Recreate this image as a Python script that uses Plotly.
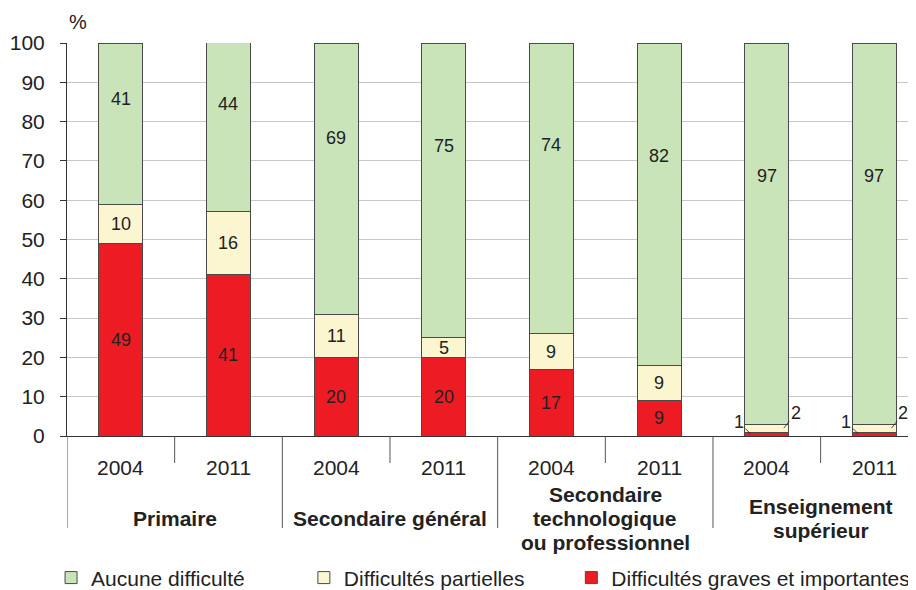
import plotly.graph_objects as go

# Données
groupes = [["Primaire"], ["Secondaire général"],
           ["Secondaire", "technologique", "ou professionnel"],
           ["Enseignement", "supérieur"]]
annees = ["2004", "2011"]
graves = [49, 41, 20, 20, 17, 9, 1, 1]
partielles = [10, 16, 11, 5, 9, 9, 2, 2]
aucune = [41, 44, 69, 75, 74, 82, 97, 97]
y_ticks = [0, 10, 20, 30, 40, 50, 60, 70, 80, 90, 100]

police = "Liberation Sans, Arial, sans-serif"
txt = "#222222"
x = list(range(len(graves)))

fig = go.Figure()
series = [("Aucune difficulté", aucune, "#C9E4B9", "legend"),
          ("Difficultés partielles", partielles, "#FBF5D0", "legend2"),
          ("Difficultés graves et importantes", graves, "#ED1C24", "legend3")]
for nom, vals, coul, leg in reversed(series):
    fig.add_trace(go.Bar(x=x, y=vals, name=nom, width=0.41, legend=leg,
                         marker=dict(color=coul, line=dict(color="#4a4a4a", width=1))))

# Étiquettes des barres
for i in x:
    r, p, a = graves[i], partielles[i], aucune[i]
    haut = min(r + p + a, 100)
    if r >= 3:
        fig.add_annotation(x=i, y=r / 2, text=str(r), showarrow=False,
                           font=dict(size=18, color=txt))
    else:
        fig.add_annotation(x=i, y=r / 2, text=str(r), xshift=-16, ax=-12, ay=-12,
                           arrowhead=0, arrowwidth=0.8, arrowcolor=txt, standoff=0,
                           font=dict(size=18, color=txt))
    if p >= 3:
        fig.add_annotation(x=i, y=r + p / 2, text=str(p), showarrow=False,
                           font=dict(size=18, color=txt))
    else:
        fig.add_annotation(x=i, y=r + p / 2, text=str(p), xshift=17, ax=12, ay=-15,
                           arrowhead=0, arrowwidth=0.8, arrowcolor=txt, standoff=0,
                           font=dict(size=18, color=txt))
    fig.add_annotation(x=i, y=haut - 0.35 * a, text=str(a), showarrow=False,
                       font=dict(size=18, color=txt))

# Axe des catégories (années + groupes)
for i in x:
    fig.add_annotation(x=i, y=0, yref="paper", yanchor="middle", yshift=-31,
                       text=annees[i % 2], showarrow=False, font=dict(size=21, color=txt))
for g, lignes in enumerate(groupes):
    n = len(lignes)
    for k, ligne in enumerate(lignes):
        fig.add_annotation(x=2 * g + 0.5, y=0, yref="paper", yanchor="middle",
                           yshift=-82 - 24 * (k - (n - 1) / 2),
                           text="<b>" + ligne + "</b>", showarrow=False,
                           font=dict(size=21, color=txt))
    fig.add_shape(type="line", xref="x", yref="paper", x0=2 * g - 0.5, x1=2 * g - 0.5,
                  y0=0, y1=-92 / 393, line=dict(color="#555555", width=1))
    fig.add_shape(type="line", xref="x", yref="paper", x0=2 * g + 0.5, x1=2 * g + 0.5,
                  y0=0, y1=-27 / 393, line=dict(color="#555555", width=1))

fig.add_annotation(x=0, y=1, xref="paper", yref="paper", xanchor="center", yanchor="middle",
                   xshift=11, yshift=21, text="%", showarrow=False,
                   font=dict(size=20, color=txt))

leg_base = dict(orientation="h", xref="container", yref="container", y=0.034,
                xanchor="left", yanchor="middle", font=dict(size=21, color=txt),
                bgcolor="rgba(0,0,0,0)")
fig.update_layout(
    width=916, height=590, barmode="stack",
    # la page ajoute une marge de 8 px autour du graphique
    margin=dict(l=59, r=0, t=35, b=162),
    paper_bgcolor="white", plot_bgcolor="white",
    font=dict(family=police, color=txt),
    showlegend=True,
    legend=dict(leg_base, x=0.047),
    legend2=dict(leg_base, x=0.323),
    legend3=dict(leg_base, x=0.615),
    xaxis=dict(range=[-0.5, 7.46], showticklabels=False, ticks="", showgrid=False,
               showline=True, linecolor="#333333", linewidth=1, zeroline=False,
               automargin=False),
    yaxis=dict(range=[0, 100], tickvals=y_ticks, ticks="outside", ticklen=6,
               tickcolor="#333333", showline=True, linecolor="#333333", linewidth=1,
               showgrid=True, gridcolor="#c8c8c8", gridwidth=1, zeroline=False,
               tickfont=dict(size=21, color=txt), ticklabelstandoff=11,
               automargin=False),
)

fig.write_html("out.html")
